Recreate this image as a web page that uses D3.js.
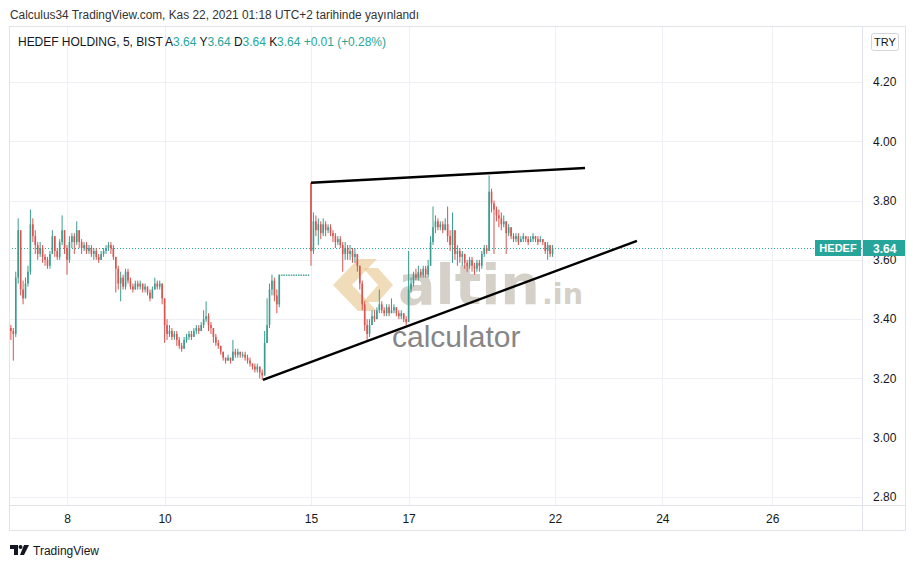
<!DOCTYPE html>
<html><head><meta charset="utf-8">
<script src="https://cdn.jsdelivr.net/npm/d3@7/dist/d3.min.js"></script>
<style>
body{margin:0;background:#fff;}
svg{display:block;font-family:"Liberation Sans","DejaVu Sans",sans-serif;}
</style></head>
<body>
<svg id="c" width="916" height="568"></svg>
<script>
// ---------- DATA ----------
const closes = [
3.36,3.35,3.54,3.70,3.50,3.47,3.52,3.56,3.72,3.68,3.65,3.62,3.64,3.61,3.60,3.58,3.62,3.68,3.63,3.61,3.66,3.70,3.64,
3.60,3.66,3.68,3.66,3.70,3.66,3.64,3.65,3.63,3.64,3.62,3.63,3.61,3.60,3.62,3.63,3.64,3.65,3.64,3.61,
3.57,3.52,3.54,3.51,3.56,3.53,3.51,3.50,3.52,3.51,3.52,3.50,3.51,3.49,3.47,3.50,3.52,3.51,3.52,3.47,
3.38,3.35,3.36,3.34,3.35,3.33,3.31,3.30,3.33,3.34,3.35,3.34,3.36,3.37,3.36,3.38,3.40,3.41,3.38,3.37,
3.34,3.32,3.31,3.29,3.27,3.26,3.27,3.26,3.29,3.28,3.29,3.28,3.28,3.27,3.26,3.25,3.24,3.23,3.24,3.22,
3.21,3.32,3.38,3.50,3.53,3.48,3.45,3.55,3.55,3.55,3.55,3.55,3.55,3.55,3.55,3.55,3.55,3.55,3.55,3.55,
3.63,3.73,3.70,3.72,3.69,3.72,3.70,3.71,3.69,3.68,3.66,3.67,3.65,3.62,3.64,3.62,3.63,3.61,3.62,3.58,
3.52,3.45,3.38,3.35,3.38,3.41,3.40,3.43,3.45,3.43,3.42,3.44,3.42,3.43,3.44,3.42,3.41,3.42,3.40,3.39,
3.50,3.52,3.55,3.54,3.56,3.55,3.57,3.55,3.58,3.66,3.71,3.73,3.71,3.72,3.70,3.72,3.68,3.65,3.70,3.62,
3.63,3.61,3.62,3.59,3.58,3.60,3.58,3.57,3.59,3.58,3.62,3.64,3.63,3.83,3.79,3.77,3.75,3.74,3.72,3.73,
3.69,3.71,3.68,3.67,3.68,3.66,3.67,3.68,3.67,3.66,3.67,3.68,3.67,3.66,3.67,3.66,3.63,3.65,3.62,3.64
];
const highs = [
3.38,3.37,3.56,3.74,3.70,3.53,3.54,3.58,3.77,3.74,3.70,3.66,3.66,3.65,3.62,3.61,3.63,3.70,3.68,3.64,3.67,3.75,3.70,
3.65,3.68,3.69,3.69,3.73,3.70,3.67,3.66,3.66,3.65,3.65,3.64,3.64,3.62,3.63,3.64,3.65,3.66,3.66,3.65,
3.61,3.58,3.56,3.55,3.57,3.57,3.54,3.52,3.53,3.53,3.53,3.52,3.52,3.51,3.50,3.51,3.54,3.53,3.53,3.52,
3.46,3.40,3.38,3.37,3.36,3.36,3.34,3.32,3.34,3.35,3.36,3.36,3.37,3.38,3.38,3.39,3.43,3.46,3.42,3.39,
3.37,3.35,3.33,3.31,3.29,3.27,3.28,3.27,3.33,3.30,3.30,3.29,3.29,3.29,3.28,3.27,3.25,3.25,3.25,3.24,
3.23,3.36,3.47,3.52,3.55,3.54,3.50,3.55,3.55,3.55,3.55,3.55,3.55,3.55,3.55,3.55,3.55,3.55,3.55,3.55,
3.86,3.76,3.75,3.74,3.73,3.74,3.73,3.72,3.72,3.70,3.69,3.68,3.68,3.66,3.66,3.65,3.65,3.64,3.64,3.62,
3.58,3.53,3.46,3.40,3.40,3.43,3.43,3.44,3.50,3.46,3.44,3.45,3.45,3.47,3.45,3.44,3.43,3.43,3.42,3.41,
3.63,3.54,3.56,3.57,3.58,3.57,3.58,3.58,3.60,3.68,3.78,3.75,3.74,3.73,3.73,3.74,3.78,3.70,3.76,3.70,
3.65,3.64,3.63,3.62,3.60,3.61,3.61,3.59,3.60,3.60,3.63,3.65,3.65,3.885,3.84,3.80,3.78,3.77,3.76,3.75,
3.73,3.72,3.71,3.69,3.69,3.69,3.68,3.69,3.68,3.68,3.68,3.69,3.68,3.68,3.68,3.67,3.66,3.66,3.65,3.65
];
const lows = [
3.33,3.26,3.34,3.52,3.48,3.45,3.47,3.51,3.55,3.66,3.62,3.60,3.61,3.59,3.58,3.57,3.57,3.62,3.61,3.60,3.60,3.65,3.62,
3.55,3.59,3.64,3.62,3.65,3.64,3.62,3.63,3.62,3.62,3.61,3.60,3.60,3.59,3.60,3.61,3.62,3.63,3.62,3.60,
3.49,3.50,3.46,3.50,3.50,3.52,3.50,3.49,3.50,3.50,3.50,3.49,3.49,3.48,3.46,3.47,3.50,3.50,3.50,3.45,
3.32,3.33,3.34,3.33,3.33,3.31,3.30,3.29,3.30,3.32,3.33,3.33,3.34,3.35,3.35,3.36,3.37,3.39,3.36,3.35,
3.32,3.31,3.30,3.28,3.26,3.25,3.26,3.25,3.26,3.27,3.27,3.27,3.27,3.26,3.25,3.24,3.23,3.22,3.22,3.20,
3.195,3.21,3.33,3.37,3.48,3.46,3.42,3.44,3.55,3.55,3.55,3.55,3.55,3.55,3.55,3.55,3.55,3.55,3.55,3.55,
3.58,3.62,3.68,3.65,3.67,3.68,3.68,3.69,3.68,3.66,3.64,3.65,3.64,3.56,3.60,3.60,3.60,3.59,3.59,3.56,
3.50,3.43,3.36,3.33,3.34,3.38,3.39,3.40,3.42,3.42,3.41,3.41,3.41,3.42,3.42,3.41,3.40,3.40,3.39,3.38,
3.39,3.49,3.51,3.53,3.53,3.54,3.54,3.54,3.54,3.58,3.65,3.69,3.70,3.70,3.69,3.70,3.66,3.63,3.59,3.60,
3.58,3.59,3.58,3.57,3.56,3.57,3.56,3.55,3.56,3.56,3.57,3.61,3.62,3.63,3.76,3.62,3.73,3.71,3.70,3.71,
3.62,3.68,3.67,3.66,3.66,3.65,3.66,3.66,3.66,3.65,3.66,3.66,3.66,3.65,3.66,3.65,3.62,3.60,3.61,3.61
];
const firstOpen = 3.37;              // open of the first bar
const gapOpens = [[123, 3.86]];      // bars whose open gaps away from previous close
const priceTicks = [2.80, 3.00, 3.20, 3.40, 3.60, 3.80, 4.00, 4.20];
const timeTickBars = [23, 63, 123, 163, 223, 267, 312];
const timeTickLabels = ["8", "10", "15", "17", "22", "24", "26"];
const upperTrend = [[123, 3.86], [235.3, 3.91]];
const lowerTrend = [[103.3, 3.195], [256.6, 3.664]];
const lastPrice = 3.64;
const symbolName = "HEDEF";
const legendParts = [
  ["HEDEF HOLDING, 5, BIST ", "#131722"], ["A", "#131722"], ["3.64", "#26a69a"],
  [" Y", "#131722"], ["3.64", "#26a69a"], [" D", "#131722"], ["3.64", "#26a69a"],
  [" K", "#131722"], ["3.64", "#26a69a"], [" +0.01 (+0.28%)", "#26a69a"]
];
const headerText = "Calculus34 TradingView.com, Kas 22, 2021 01:18 UTC+2 tarihinde yayınlandı";

// ---------- BUILD ----------
const gapMap = new Map(gapOpens);
const bars = closes.map((c, i) => {
  const o = gapMap.has(i) ? gapMap.get(i) : (i === 0 ? firstOpen : closes[i - 1]);
  return {i, o, c, h: Math.max(highs[i], o, c), l: Math.min(lows[i], o, c)};
});

const svg = d3.select("#c");
const L = 9, R = 906, T = 26, B = 531, AX = 862, TB = 505;

const x = d3.scaleLinear().domain([23, 223]).range([67, 555]);
const y = d3.scaleLinear().domain([2.80, 4.20]).range([497, 82]);

// header
svg.append("text").attr("x", 10).attr("y", 19).attr("font-size", 12).attr("fill", "#333")
  .attr("textLength", 409).attr("lengthAdjust", "spacingAndGlyphs").text(headerText);

// frame
svg.append("rect").attr("x", L + 0.5).attr("y", T + 0.5).attr("width", R - L - 1).attr("height", B - T - 1)
  .attr("fill", "#fff").attr("stroke", "#e0e3eb");

// grid
const grid = svg.append("g");
grid.selectAll("line.h").data(priceTicks).join("line")
  .attr("x1", L + 1).attr("x2", AX).attr("y1", d => Math.round(y(d)) + 0.5).attr("y2", d => Math.round(y(d)) + 0.5)
  .attr("stroke", "#eef0f5");
grid.selectAll("line.v").data(timeTickBars).join("line")
  .attr("y1", T + 1).attr("y2", TB).attr("x1", d => Math.round(x(d)) + 0.5).attr("x2", d => Math.round(x(d)) + 0.5)
  .attr("stroke", "#eef0f5");

// separators
svg.append("line").attr("x1", AX + 0.5).attr("x2", AX + 0.5).attr("y1", T).attr("y2", B).attr("stroke", "#e0e3eb");
svg.append("line").attr("x1", L).attr("x2", R).attr("y1", TB + 0.5).attr("y2", TB + 0.5).attr("stroke", "#e0e3eb");

// watermark
const wm = svg.append("g");
const ic = "#e8c58a";
const icon = [
  [[333,285],[358,259],[377,259],[352,285]],
  [[333,285],[352,285],[377,311],[358,311]],
  [[363,268],[378,268],[393,285],[378,302],[363,302],[378,285]]
];
wm.selectAll("polygon").data(icon).join("polygon")
  .attr("points", d => d.map(p => p.join(",")).join(" ")).attr("fill", ic).attr("opacity", 0.6);
wm.append("text").attr("x", 398).attr("y", 304).style("font-family", "'DejaVu Sans'").style("font-weight", "bold")
  .style("font-size", "56px").attr("fill", "#c7c1b6").attr("opacity", 0.75)
  .attr("textLength", 142).attr("lengthAdjust", "spacingAndGlyphs").text("altin");
wm.append("text").attr("x", 542).attr("y", 304).style("font-family", "'DejaVu Sans'").style("font-weight", "bold")
  .style("font-size", "28px").attr("fill", "#c7c1b6").attr("opacity", 0.75)
  .attr("textLength", 41).attr("lengthAdjust", "spacingAndGlyphs").text(".in");
wm.append("text").attr("x", 392).attr("y", 347).style("font-size", "30px").attr("fill", "#7a7a7a").attr("opacity", 0.9)
  .text("calculator");

// clip for plot
svg.append("clipPath").attr("id", "pc").append("rect").attr("x", L + 1).attr("y", T + 1).attr("width", AX - L - 1).attr("height", TB - T - 1);
const plot = svg.append("g").attr("clip-path", "url(#pc)");

// last price dotted line
plot.append("line").attr("x1", L).attr("x2", AX).attr("y1", Math.round(y(lastPrice)) + 0.5).attr("y2", Math.round(y(lastPrice)) + 0.5)
  .attr("stroke", "#26a69a").attr("stroke-dasharray", "1,2");

// candles
const up = "#3a9d90", dn = "#d9534f";
const cg = plot.append("g");
cg.selectAll("line").data(bars).join("line")
  .attr("x1", d => x(d.i)).attr("x2", d => x(d.i))
  .attr("y1", d => y(d.h)).attr("y2", d => Math.max(y(d.l), y(d.h) + 1))
  .attr("stroke", d => d.c >= d.o ? up : dn).attr("stroke-width", 1);
cg.selectAll("rect").data(bars).join("rect")
  .attr("x", d => x(d.i) - 0.8).attr("width", 1.6)
  .attr("y", d => y(Math.max(d.o, d.c))).attr("height", d => Math.max(1, Math.abs(y(d.o) - y(d.c))))
  .attr("fill", d => d.c >= d.o ? up : dn);

// trend lines
const tl = d3.line().x(d => x(d[0])).y(d => y(d[1]));
[upperTrend, lowerTrend].forEach(t => {
  plot.append("path").attr("d", tl(t)).attr("fill", "none").attr("stroke", "#000").attr("stroke-width", 2.4);
});

// legend
const lg = svg.append("text").attr("x", 18).attr("y", 46).style("font-size", "12px")
  .attr("textLength", 368).attr("lengthAdjust", "spacing");
legendParts.forEach(p => lg.append("tspan").attr("fill", p[1]).text(p[0]));

// TRY box
svg.append("rect").attr("x", 871.5).attr("y", 33.5).attr("width", 27).attr("height", 17).attr("rx", 2)
  .attr("fill", "#fff").attr("stroke", "#d1d4dc");
svg.append("text").attr("x", 885).attr("y", 46).attr("text-anchor", "middle").style("font-size", "11px").attr("fill", "#131722").text("TRY");

// price axis (3.60 sits partly under the last-price tag, as in the reference)
const ya = d3.axisRight(y).tickValues(priceTicks).tickFormat(d3.format(".2f")).tickSize(0).tickPadding(11);
const yg = svg.append("g").attr("transform", `translate(${AX},0)`).call(ya);
yg.select(".domain").remove();
yg.selectAll("text").style("font-size", "12px").attr("fill", "#131722").style("font-family", "'Liberation Sans', sans-serif");

// time axis
const xa = d3.axisBottom(x).tickValues(timeTickBars).tickFormat((d, i) => timeTickLabels[i]).tickSize(0).tickPadding(9);
const xg = svg.append("g").attr("transform", `translate(0,${TB})`).call(xa);
xg.select(".domain").remove();
xg.selectAll("text").style("font-size", "12px").attr("fill", "#131722").style("font-family", "'Liberation Sans', sans-serif");

// last price labels
const ly = y(lastPrice);
svg.append("rect").attr("x", 815).attr("y", ly - 8).attr("width", 46).attr("height", 16).attr("fill", "#26a69a");
svg.append("text").attr("x", 838).attr("y", ly + 4).attr("text-anchor", "middle").style("font-size", "11px")
  .style("font-weight", "bold").attr("fill", "#fff").text(symbolName);
svg.append("rect").attr("x", 863).attr("y", ly - 8).attr("width", 42).attr("height", 16).attr("fill", "#26a69a");
svg.append("text").attr("x", 873).attr("y", ly + 4.5).style("font-size", "12px")
  .style("font-weight", "bold").attr("fill", "#fff").text(d3.format(".2f")(lastPrice));

// footer logo
const f = svg.append("g").attr("fill", "#131722");
f.append("path").attr("d", "M10,545 h8 v10 h-4 v-6 h-4 z");
f.append("circle").attr("cx", 20.5).attr("cy", 547).attr("r", 2);
f.append("path").attr("d", "M24,545 h5 l-5,10 h-4 z");
svg.append("text").attr("x", 33).attr("y", 555).style("font-size", "12px").attr("fill", "#131722").text("TradingView");
</script>
</body></html>
